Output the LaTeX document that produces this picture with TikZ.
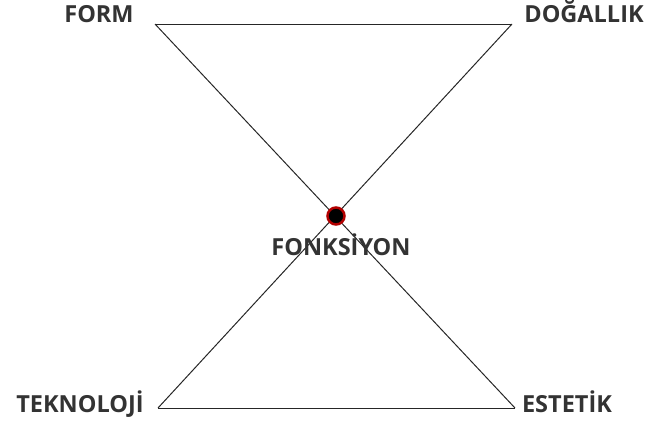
\documentclass[tikz,border=0pt]{standalone}
\usepackage{fontspec}
\setmainfont{Open Sans}
\begin{document}
\begin{tikzpicture}[x=1pt,y=-1pt,
  lbl/.style={font=\fontsize{23.5}{26}\selectfont\bfseries, text=black!80, anchor=base, inner sep=0pt},
  edge/.style={draw=black!85, line width=1pt},
  hub/.style={circle, fill=black, draw=red!70!black, line width=2.5pt, minimum size=17pt, inner sep=0pt}]
\useasboundingbox (0,0) rectangle (645,423);
\coordinate (tl) at (155,24);
\coordinate (tr) at (512,24);
\coordinate (bl) at (158,408);
\coordinate (br) at (515,408);
\draw[edge] (tl) -- (tr);
\draw[edge] (bl) -- (br);
\draw[edge] (tl) -- (br);
\draw[edge] (tr) -- (bl);
\node[hub] (c) at (336,216) {};
\node[lbl] (form) at (99,23) {FORM};
\node[lbl] (doga) at (584,23) {DOĞALLIK};
\node[lbl] (tek) at (80,412) {TEKNOLOJİ};
\node[lbl] (est) at (567,412) {ESTETİK};
\node[lbl] (fonk) at (341,255) {FONKSİYON};
\end{tikzpicture}
\end{document}
